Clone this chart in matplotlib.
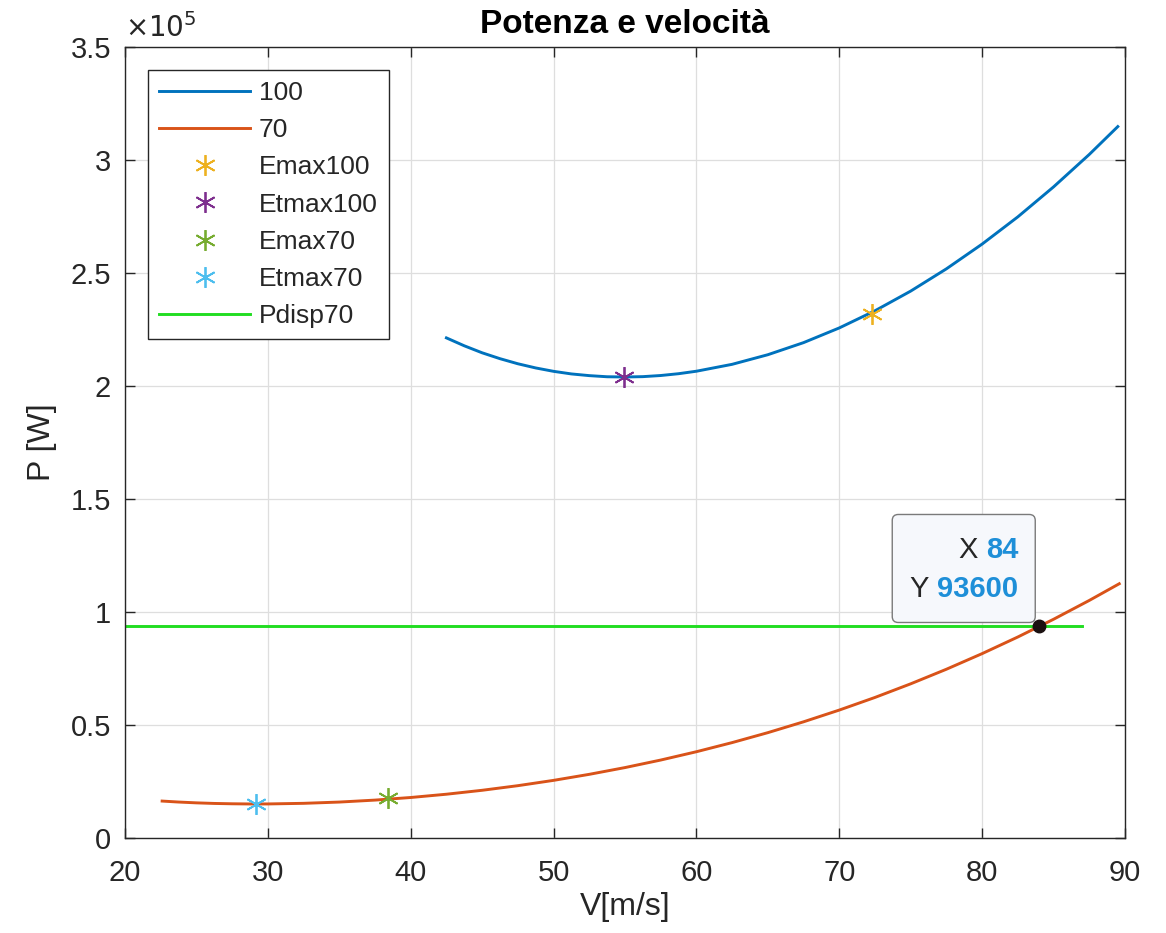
import matplotlib.pyplot as plt
import matplotlib.transforms as mtransforms
from matplotlib.patches import FancyBboxPatch
import numpy as np

plt.rcParams['font.family'] = ['Liberation Sans', 'DejaVu Sans']

# velocita [m/s] e potenza [W]
v100 = [42.5, 43.75, 45, 46.25, 47.5, 48.75, 50, 51.25, 52.5, 53.75, 55,
        56.25, 57.5, 58.75, 60, 62.5, 65, 67.5, 70, 72.5, 75, 77.5, 80,
        82.5, 85, 87.5, 89.5]
p100 = [221300, 217800, 214700, 212100, 209850, 208000, 206500, 205350,
        204600, 204100, 204000, 204150, 204650, 205450, 206550, 209600,
        213850, 219200, 225700, 233300, 242000, 251850, 262800, 274850,
        288100, 302450, 314800]

v70 = [22.6, 23.75, 25, 26.25, 27.5, 28.75, 30, 32.5, 35, 37.5, 40, 42.5, 45,
       47.5, 50, 52.5, 55, 57.5, 60, 62.5, 65, 67.5, 70, 72.5, 75, 77.5, 80,
       82.5, 85, 87.5, 89.6]
p70 = [16350, 15920, 15560, 15300, 15150, 15070, 15080, 15350, 15910, 16780,
       17930, 19380, 21120, 23160, 25510, 28180, 31170, 34500, 38180, 42220,
       46620, 51420, 56610, 62200, 68230, 74680, 81590, 88950, 96790, 105120,
       112510]

# punti notevoli
emax100 = (72.3, 232000)
etmax100 = (54.9, 204000)
emax70 = (38.4, 17800)
etmax70 = (29.2, 15100)

pdisp_v = [20, 87]
pdisp_p = [93600, 93600]
tip = (84, 93600)

txt = '#262626'
fig = plt.figure(figsize=(11.66, 9.33), dpi=100)
ax = fig.add_axes([0.1072, 0.1018, 0.8576, 0.8478])

star = (6, 2, 0)
ax.plot(v100, p100, color='#0072BD', lw=2.1, label='100')
ax.plot(v70, p70, color='#D95319', lw=2.1, label='70')
ax.plot(*emax100, ls='none', marker=star, ms=15, mew=1.3, color='#EDB120', label='Emax100')
ax.plot(*etmax100, ls='none', marker=star, ms=15, mew=1.3, color='#7E2F8E', label='Etmax100')
ax.plot(*emax70, ls='none', marker=star, ms=15, mew=1.3, color='#77AC30', label='Emax70')
ax.plot(*etmax70, ls='none', marker=star, ms=15, mew=1.3, color='#4DBEEE', label='Etmax70')
ax.plot(pdisp_v, pdisp_p, color='#22DD22', lw=2.1, label='Pdisp70')

# data tip (coordinate in pollici rispetto al punto)
ax.plot(*tip, 'o', color='#1a1010', ms=9, zorder=10)
tt = fig.dpi_scale_trans + mtransforms.ScaledTranslation(tip[0], tip[1], ax.transData)
box = FancyBboxPatch((-1.47, 0.04), 1.43, 1.08, boxstyle='round,pad=0,rounding_size=0.06',
                     fc='#F6F8FC', ec='#7a7a7a', lw=1, transform=tt, zorder=8)
ax.add_patch(box)
ax.text(-0.62, 0.76, 'X', transform=tt, fontsize=21, color=txt, ha='right', va='center', zorder=9)
ax.text(-0.21, 0.76, '84', transform=tt, fontsize=21, color='#1E8FD8', fontweight='bold',
        ha='right', va='center', zorder=9)
ax.text(-1.10, 0.37, 'Y', transform=tt, fontsize=21, color=txt, ha='right', va='center', zorder=9)
ax.text(-0.21, 0.37, '93600', transform=tt, fontsize=21, color='#1E8FD8', fontweight='bold',
        ha='right', va='center', zorder=9)

ax.set_xlim(20, 90)
ax.set_ylim(0, 350000)
ax.set_xticks(np.arange(20, 91, 10))
ax.set_yticks(np.arange(0, 350001, 50000))
ax.set_yticklabels(['0', '0.5', '1', '1.5', '2', '2.5', '3', '3.5'])
ax.text(0.0, 1.005, r'$\times10^{5}$', transform=ax.transAxes, fontsize=20,
        color=txt, ha='left', va='bottom', family='DejaVu Sans')

ax.grid(True, color='#dedede', lw=0.9)
ax.set_axisbelow(True)
ax.tick_params(direction='in', length=7, width=1, top=True, right=True,
               labelsize=21, colors=txt)
ax.tick_params(axis='x', pad=15)
ax.tick_params(axis='y', pad=10)
for s in ax.spines.values():
    s.set_color(txt)
    s.set_linewidth(1)

ax.set_xlabel('V[m/s]', fontsize=23, color=txt, labelpad=4)
ax.set_ylabel('P [W]', fontsize=23, color=txt, labelpad=10)
ax.set_title('Potenza e velocità', fontsize=24, fontweight='bold', color='black', pad=10)

leg = ax.legend(loc='upper left', bbox_to_anchor=(0.023, 0.971), borderaxespad=0,
                fontsize=19, handlelength=3.45, borderpad=0.42, labelspacing=0.5,
                handletextpad=0.34, fancybox=False, edgecolor=txt, framealpha=1)
leg.get_frame().set_linewidth(1)
for t in leg.get_texts():
    t.set_color(txt)

fig.savefig('out.png', dpi=100)
